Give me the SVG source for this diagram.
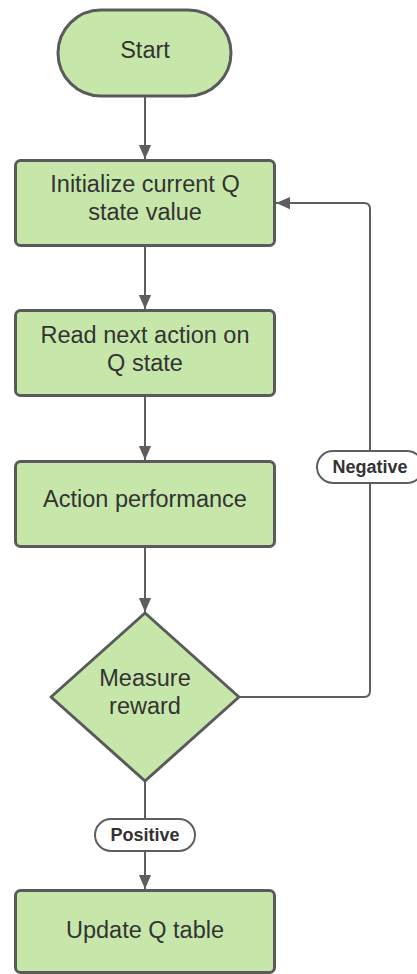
<svg xmlns="http://www.w3.org/2000/svg" width="417" height="974" viewBox="0 0 417 974">
<style>
.n{fill:#c7e7aa;stroke:#5a5a5a;stroke-width:3;stroke-linejoin:round}
.t{font-family:"Liberation Sans",Arial,sans-serif;font-size:23.5px;fill:#333;text-anchor:middle}
.c{fill:none;stroke:#5e5e5e;stroke-width:2}
.lb{fill:#fff;stroke:#5e5e5e;stroke-width:2}
.lt{font-family:"Liberation Sans",Arial,sans-serif;font-size:18px;font-weight:bold;fill:#333;text-anchor:middle}
</style>
<defs>
<marker id="ah" markerUnits="userSpaceOnUse" markerWidth="14" markerHeight="16" viewBox="0 0 16 14" refX="16" refY="7" orient="auto">
<path d="M0,0 L16,7 L0,14 Z" fill="#5e5e5e"/>
</marker>
</defs>
<rect width="417" height="974" fill="#fff"/>
<g id="connectors">
<line class="c" x1="145" y1="96" x2="145" y2="159" marker-end="url(#ah)"/>
<line class="c" x1="145" y1="246" x2="145" y2="309" marker-end="url(#ah)"/>
<line class="c" x1="145" y1="396" x2="145" y2="460" marker-end="url(#ah)"/>
<line class="c" x1="145" y1="547" x2="145" y2="612" marker-end="url(#ah)"/>
<line class="c" x1="145" y1="781" x2="145" y2="889" marker-end="url(#ah)"/>
<path class="c" d="M239,697 H364 Q370,697 370,691 V209 Q370,203 364,203 H276" marker-end="url(#ah)"/>
<g id="label-negative">
<rect class="lb" x="317" y="451" width="106" height="32" rx="16"/>
<text class="lt" x="370" y="473">Negative</text>
</g>
<g id="label-positive">
<rect class="lb" x="95" y="819" width="100" height="32" rx="16"/>
<text class="lt" x="145" y="841">Positive</text>
</g>
</g>
<g id="start">
<rect class="n" x="58" y="10" width="173" height="86" rx="43"/>
<text class="t" x="145" y="58">Start</text>
</g>
<g id="init">
<rect class="n" x="15.5" y="160.5" width="259" height="85" rx="5"/>
<text class="t" x="145" y="192">Initialize current Q</text>
<text class="t" x="145" y="220">state value</text>
</g>
<g id="read">
<rect class="n" x="15.5" y="310.5" width="259" height="85" rx="5"/>
<text class="t" x="145" y="343">Read next action on</text>
<text class="t" x="145" y="371">Q state</text>
</g>
<g id="action">
<rect class="n" x="15.5" y="461.5" width="259" height="85" rx="5"/>
<text class="t" x="145" y="507">Action performance</text>
</g>
<g id="measure">
<path class="n" d="M145,613 L239,697 L145,781 L51,697 Z"/>
<text class="t" x="145" y="686">Measure</text>
<text class="t" x="145" y="714">reward</text>
</g>
<g id="update">
<rect class="n" x="15.5" y="890.5" width="259" height="82" rx="5"/>
<text class="t" x="145" y="938">Update Q table</text>
</g>
</svg>
